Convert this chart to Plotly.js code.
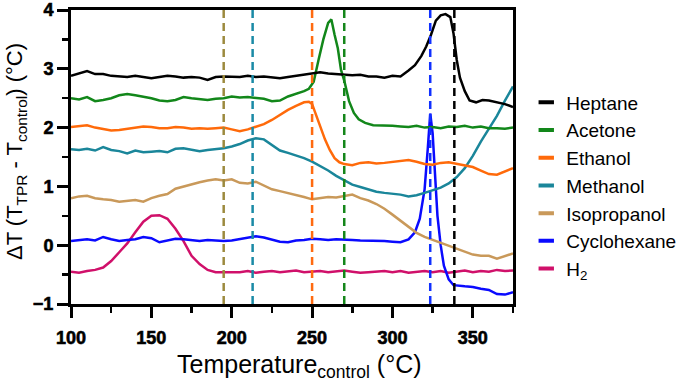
<!DOCTYPE html>
<html>
<head>
<meta charset="utf-8">
<script src="https://cdn.plot.ly/plotly-3.0.1.min.js"></script>
<style>
  html, body { margin: 0; padding: 0; background: #fff; }
  #chart { width: 681px; height: 387px; }
  #chart .xtick text, #chart .ytick text { font-weight: 700 !important; stroke: #000; stroke-width: 0.6px; }
</style>
</head>
<body>
<div id="chart"></div>
<script>
// ==================== data ====================
const gridT = [100,105,110,115,120,125,130,135,140,145,150,155,160,165,170,175,180,185,190,195,
  200,205,210,215,220,225,230,235,240,245,250,255,260,265,270,275,280,285,290,295,
  300,305,310,315,320,325,330,335,340,345,350,355,360,365,370,375];

const heptaneT = [100,105,110,115,120,125,130,135,140,145,150,155,160,165,170,175,180,185,190,195,
  200,205,210,215,220,225,230,235,240,245,250,255,260,265,270,275,280,285,290,295,300,305,310,
  314,318,321,324,327,330,333,336,338,340,342,345,348,352,356,360,365,370,375];
const heptaneDT = [2.88,2.92,2.96,2.91,2.91,2.88,2.87,2.86,2.88,2.86,2.84,2.86,2.88,2.87,2.85,2.86,2.85,2.81,2.86,2.87,
  2.87,2.86,2.88,2.86,2.87,2.85,2.84,2.86,2.88,2.91,2.92,2.94,2.92,2.91,2.89,2.89,2.90,2.87,2.87,2.85,2.88,2.87,2.97,
  3.06,3.22,3.38,3.58,3.82,3.91,3.93,3.88,3.60,3.15,2.85,2.62,2.46,2.43,2.47,2.46,2.43,2.40,2.35];

const acetoneT = [100,105,110,115,120,125,130,135,140,145,150,155,160,165,170,175,180,185,190,195,
  200,205,210,215,220,225,230,235,240,245,248,251,254,257,260,262,264,266,268,270,273,276,279,283,288,
  295,300,305,310,315,320,325,330,335,340,345,350,355,360,365,370,375];
const acetoneDT = [2.50,2.48,2.52,2.45,2.47,2.50,2.55,2.57,2.55,2.53,2.50,2.46,2.45,2.47,2.52,2.50,2.49,2.47,2.49,2.50,
  2.53,2.51,2.52,2.50,2.49,2.45,2.46,2.53,2.57,2.62,2.66,2.78,3.15,3.50,3.78,3.84,3.58,3.35,2.98,2.80,2.45,2.25,2.14,2.08,2.04,
  2.04,2.03,2.02,2.01,2.03,2.00,2.01,1.99,2.02,2.01,2.03,2.00,2.02,1.99,1.99,1.98,2.00];

const ethanolT = [100,105,110,115,120,125,130,135,140,145,150,155,160,165,170,175,180,185,190,195,
  200,205,210,215,220,225,230,235,240,245,248,250,252,255,258,261,264,267,270,
  275,280,285,290,295,300,305,310,315,320,325,330,335,340,345,350,355,360,365,370,375];
const ethanolDT = [2.01,2.03,2.04,2.00,1.97,1.95,1.96,1.98,2.00,2.02,2.01,1.99,1.99,2.01,2.00,1.98,1.99,1.98,1.99,2.00,
  1.97,1.94,1.97,2.02,2.06,2.13,2.22,2.30,2.37,2.43,2.44,2.40,2.25,2.02,1.80,1.62,1.48,1.41,1.38,
  1.36,1.40,1.41,1.39,1.40,1.42,1.44,1.45,1.42,1.38,1.37,1.40,1.41,1.38,1.35,1.33,1.27,1.21,1.20,1.26,1.31];

const methanolDT = [1.63,1.62,1.64,1.61,1.67,1.62,1.60,1.56,1.61,1.58,1.59,1.60,1.58,1.64,1.65,1.62,1.60,1.62,1.63,1.65,
  1.68,1.72,1.78,1.82,1.80,1.70,1.61,1.57,1.53,1.48,1.42,1.35,1.27,1.18,1.10,1.03,0.99,0.95,0.91,0.89,
  0.88,0.86,0.83,0.85,0.89,0.93,0.98,1.05,1.16,1.31,1.52,1.76,1.99,2.20,2.46,2.70];

const isopropanolDT = [0.80,0.83,0.84,0.80,0.78,0.77,0.74,0.76,0.77,0.74,0.80,0.84,0.87,0.96,1.00,1.04,1.07,1.10,1.12,1.10,
  1.12,1.06,1.05,1.08,1.02,0.95,0.92,0.89,0.86,0.82,0.78,0.80,0.82,0.81,0.83,0.86,0.80,0.76,0.70,0.62,
  0.52,0.42,0.32,0.21,0.14,0.09,0.04,-0.01,-0.06,-0.12,-0.16,-0.18,-0.18,-0.23,-0.18,-0.14];

const cyclohexaneT = [100,105,110,115,120,125,130,135,140,145,150,155,160,165,170,175,180,185,190,195,
  200,205,210,215,220,225,230,235,240,245,250,255,260,265,270,275,280,285,290,295,300,305,310,
  314,317,320,322,323.5,325,326.5,328,330,332,335,338,345,350,355,360,365,370,375];
const cyclohexaneDT = [0.07,0.08,0.10,0.08,0.14,0.10,0.07,0.09,0.10,0.14,0.12,0.05,0.08,0.11,0.10,0.08,0.07,0.09,0.08,0.07,
  0.08,0.10,0.12,0.15,0.13,0.10,0.06,0.05,0.08,0.09,0.11,0.10,0.09,0.10,0.10,0.09,0.08,0.08,0.07,0.07,0.06,0.05,0.10,
  0.22,0.45,0.95,1.65,2.24,1.90,1.20,0.50,0.00,-0.35,-0.58,-0.68,-0.70,-0.71,-0.74,-0.76,-0.83,-0.84,-0.80];

const h2DT = [-0.45,-0.47,-0.44,-0.42,-0.38,-0.27,-0.12,0.03,0.22,0.40,0.50,0.51,0.45,0.28,0.07,-0.18,-0.32,-0.42,-0.46,-0.46,
  -0.45,-0.46,-0.44,-0.47,-0.45,-0.44,-0.46,-0.45,-0.43,-0.46,-0.45,-0.44,-0.46,-0.44,-0.43,-0.45,-0.47,-0.46,-0.45,-0.44,
  -0.46,-0.44,-0.47,-0.45,-0.44,-0.46,-0.44,-0.47,-0.45,-0.43,-0.46,-0.44,-0.45,-0.42,-0.44,-0.43];

// peak positions marked by the dashed lines
const peakT = [195, 213, 250, 270, 323.5, 338.5];
const peakColors = ['#9c8a3e', '#1a8aa6', '#ff6a10', '#14861a', '#1030ff', '#000000'];

const names = ['Heptane', 'Acetone', 'Ethanol', 'Methanol', 'Isopropanol', 'Cyclohexane', 'H<sub>2</sub>'];
const colors = ['#000000', '#12871a', '#ff6a0a', '#1a869a', '#c9995a', '#0a0aff', '#d0106a'];

// ==================== plot ====================
const series = [
  [heptaneT, heptaneDT], [acetoneT, acetoneDT], [ethanolT, ethanolDT], [gridT, methanolDT],
  [gridT, isopropanolDT], [cyclohexaneT, cyclohexaneDT], [gridT, h2DT]
];

const traces = [];
// H2 first, heptane last
for (let i = series.length - 1; i >= 0; i--) {
  traces.push({
    x: series[i][0], y: series[i][1],
    type: 'scatter', mode: 'lines',
    line: { color: colors[i], width: 2.5 },
    showlegend: false, hoverinfo: 'skip'
  });
}
// short legend swatches
names.forEach((n, i) => {
  traces.push({
    x: [null], y: [null], type: 'scatter', mode: 'markers', name: n,
    marker: { symbol: 'line-ew', size: 11, color: colors[i], line: { color: colors[i], width: 4 } }
  });
});

const shapes = peakT.map((t, i) => ({
  type: 'line', xref: 'x', yref: 'paper', x0: t, x1: t, y0: 0, y1: 1,
  line: { color: peakColors[i], width: 2.5, dash: '8px,5px' }
}));

const fontFam = '"Liberation Sans", Arial, sans-serif';

const axisCommon = {
  ticks: 'outside', ticklen: 11, tickwidth: 3, tickcolor: '#000',
  showline: true, linewidth: 3, linecolor: '#000', mirror: true,
  showgrid: false, zeroline: false,
  ticklabeloverflow: 'allow',
  tickfont: { size: 18, family: fontFam, color: '#000', weight: 'bold' }
};

Plotly.newPlot('chart', traces, {
  width: 681, height: 387,
  margin: { l: 71, r: 168, t: 10, b: 83, autoexpand: false },
  paper_bgcolor: '#fff', plot_bgcolor: '#fff',
  font: { family: fontFam, color: '#000' },
  shapes: shapes,
  xaxis: Object.assign({}, axisCommon, {
    range: [100, 375], tick0: 100, dtick: 50, ticklabelstandoff: 4,
    minor: { dtick: 25, ticks: 'outside', ticklen: 6, tickwidth: 2.5, tickcolor: '#000' }
  }),
  yaxis: Object.assign({}, axisCommon, {
    range: [-1, 4], tick0: 0, dtick: 1,
    minor: { dtick: 0.5, ticks: 'outside', ticklen: 6, tickwidth: 2.5, tickcolor: '#000' }
  }),
  annotations: [{
    text: 'Temperature<sub>control</sub> (°C)',
    xref: 'paper', yref: 'paper', x: 0.516, y: -0.15,
    xanchor: 'center', yanchor: 'top',
    showarrow: false, font: { size: 25 }
  }, {
    text: 'ΔT (T<sub>TPR</sub> - T<sub>control</sub>) (°C)',
    xref: 'paper', yref: 'paper', x: -0.1244, y: 0.517,
    xanchor: 'center', yanchor: 'middle', textangle: -90,
    showarrow: false, font: { size: 22 }
  }],
  legend: {
    x: 1.03, xanchor: 'left', y: 0.75, yanchor: 'top',
    font: { size: 19 }, bgcolor: 'rgba(0,0,0,0)', tracegroupgap: 0
  }
}, { displayModeBar: false, staticPlot: true });
</script>
</body>
</html>
